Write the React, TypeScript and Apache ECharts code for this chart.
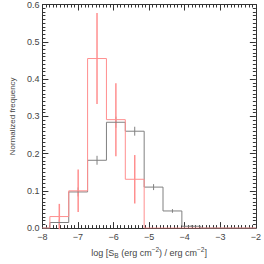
import React, { useEffect, useRef } from "react";
import * as echarts from "echarts";

// Histogram bin edges (log S_B)
const binEdges = [-7.79, -7.26, -6.73, -6.2, -5.67, -5.14, -4.61, -4.08, -3.55];
// Gray (full sample) normalized frequencies and errors
const grayFreq = [0.015, 0.097, 0.182, 0.284, 0.26, 0.11, 0.046, 0.005];
const grayErr = [0.008, 0.012, 0.012, 0.015, 0.012, 0.008, 0.005, 0.003];
// Red (sub-sample) normalized frequencies and errors
const redFreq = [0.031, 0.1, 0.455, 0.291, 0.131, 0, 0, 0];
const redErr = [0.034, 0.057, 0.122, 0.098, 0.065, 0, 0, 0];

const xMin = -8;
const xMax = -2;
const yMin = 0;
const yMax = 0.6;

const FONT = "'Liberation Sans', Arial, Helvetica, sans-serif";
const TEXT = "#444";
const AXIS = "#333";
const RED = "#ff8f8f";
const GRAY = "#808080";

function stepData(freq: number[]) {
  const pts: number[][] = [[xMin, 0]];
  for (let i = 0; i < freq.length; i++) pts.push([binEdges[i], freq[i]]);
  pts.push([binEdges[binEdges.length - 1], 0]);
  pts.push([xMax, 0]);
  return pts;
}

function errData(freq: number[], err: number[]) {
  const out: number[][] = [];
  for (let i = 0; i < freq.length; i++) {
    if (err[i] > 0) {
      const c = (binEdges[i] + binEdges[i + 1]) / 2;
      out.push([c, freq[i] - err[i], freq[i] + err[i]]);
    }
  }
  return out;
}

function errSeries(data: number[][], color: string, width: number) {
  return {
    type: "custom",
    xAxisIndex: 0,
    yAxisIndex: 0,
    data,
    renderItem: (params: any, api: any) => {
      const x = api.value(0);
      const p1 = api.coord([x, api.value(1)]);
      const p2 = api.coord([x, api.value(2)]);
      return {
        type: "line",
        shape: { x1: p1[0], y1: p1[1], x2: p2[0], y2: p2[1] },
        style: { stroke: color, lineWidth: width },
      };
    },
    encode: { x: 0, y: [1, 2] },
    silent: true,
  };
}

const minus = (v: number) => (v < 0 ? "\u2212" + Math.abs(v) : String(v));

export default function App() {
  const ref = useRef<HTMLDivElement>(null);
  useEffect(() => {
    if (!ref.current) return;
    const chart = echarts.init(ref.current, null, { renderer: "svg" });
    const axisCommon = {
      type: "value",
      axisLine: { show: true, onZero: false, lineStyle: { color: AXIS, width: 1 } },
      axisTick: { show: true, inside: true, length: 6, lineStyle: { color: AXIS, width: 1 } },
      minorTick: { show: true, splitNumber: 10, length: 3, lineStyle: { color: AXIS, width: 1 } },
      splitLine: { show: false },
      minorSplitLine: { show: false },
    };
    const option: any = {
      animation: false,
      backgroundColor: "#fff",
      grid: { left: 27, right: 6, top: 4.5, bottom: 25, containLabel: false },
      xAxis: [
        {
          ...axisCommon,
          min: xMin,
          max: xMax,
          interval: 1,
          position: "bottom",
          axisLabel: {
            color: TEXT,
            fontSize: 9,
            fontFamily: FONT,
            margin: 4,
            formatter: (v: number) => minus(v),
          },
          name: "{n|log [S}{sub|B}{n| (erg cm}{sup|\u22122}{n|) / erg cm}{sup|\u22122}{n|]}",
          nameLocation: "middle",
          nameGap: 12,
          nameTextStyle: {
            color: TEXT,
            fontFamily: FONT,
            fontSize: 9,
            rich: {
              n: { fontSize: 9, lineHeight: 13, color: TEXT, fontFamily: FONT },
              sub: { fontSize: 6.5, verticalAlign: "bottom", color: TEXT, fontFamily: FONT },
              sup: { fontSize: 6.5, verticalAlign: "top", color: TEXT, fontFamily: FONT },
            },
          },
        },
        {
          ...axisCommon,
          min: xMin,
          max: xMax,
          interval: 1,
          position: "top",
          axisLabel: { show: false },
        },
      ],
      yAxis: [
        {
          ...axisCommon,
          min: yMin,
          max: yMax,
          interval: 0.1,
          position: "left",
          axisLabel: {
            color: TEXT,
            fontSize: 9,
            fontFamily: FONT,
            margin: 3,
            formatter: (v: number) => v.toFixed(1),
          },
          name: "Normalized frequency",
          nameLocation: "middle",
          nameGap: 17,
          nameTextStyle: { color: TEXT, fontFamily: FONT, fontSize: 8 },
        },
        {
          ...axisCommon,
          min: yMin,
          max: yMax,
          interval: 0.1,
          position: "right",
          axisLabel: { show: false },
        },
      ],
      series: [
        {
          type: "line",
          xAxisIndex: 0,
          yAxisIndex: 0,
          step: "end",
          data: stepData(grayFreq),
          symbol: "none",
          lineStyle: { color: GRAY, width: 1 },
          silent: true,
          z: 2,
        },
        errSeries(errData(grayFreq, grayErr), GRAY, 1),
        {
          type: "line",
          xAxisIndex: 0,
          yAxisIndex: 0,
          step: "end",
          data: stepData(redFreq),
          symbol: "none",
          lineStyle: { color: RED, width: 1 },
          silent: true,
          z: 3,
        },
        errSeries(errData(redFreq, redErr), RED, 1.5),
      ],
    };
    chart.setOption(option);
    return () => chart.dispose();
  }, []);
  return (
    <div
      ref={ref}
      style={{ position: "fixed", left: 0, top: 0, width: 264, height: 264, background: "#fff" }}
    />
  );
}
